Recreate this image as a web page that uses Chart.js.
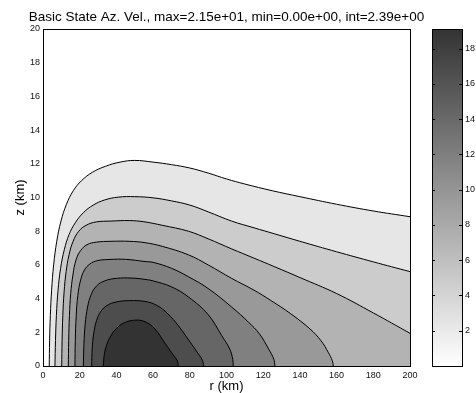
<!DOCTYPE html>
<html>
<head>
<meta charset="utf-8">
<script src="https://cdn.jsdelivr.net/npm/chart.js@4.4.0/dist/chart.umd.min.js"></script>
<style>
  html, body { margin: 0; padding: 0; background: #ffffff; }
  #wrap { position: relative; width: 476px; height: 393px; }
  canvas { position: absolute; left: 0; top: 0; }
</style>
</head>
<body>
<div id="wrap">
  <canvas id="main" width="476" height="393"></canvas>
  <canvas id="cbar" width="476" height="393"></canvas>
</div>
<script>
// ---- data ----
const titleText = 'Basic State Az. Vel., max=2.15e+01, min=0.00e+00, int=2.39e+00';
const levels = [2.39, 4.78, 7.17, 9.56, 11.95, 14.34, 16.73, 19.12];
const rTicks = [0, 20, 40, 60, 80, 100, 120, 140, 160, 180, 200];
const zTicks = [0, 2, 4, 6, 8, 10, 12, 14, 16, 18, 20];
const cbarTicks = [2, 4, 6, 8, 10, 12, 14, 16, 18];
const cbarRange = [0, 19.12];

// contour lines, [r (km), z (km)]
const contour1 = [[3.4,0],[3.6,1.5],[4.0,3.0],[4.7,4.5],[5.8,6.0],[7.5,7.4],[9.8,8.6],[12.8,9.6],[16.5,10.4],[21,11.0],[27,11.5],[34,11.85],[42,12.1],[50,12.2],[60,12.1],[70,11.95],[80,11.75],[90,11.45],[100,11.1],[110,10.8],[125,10.4],[140,10.05],[160,9.6],[180,9.2],[200,8.86]];
const contour2 = [[6.5,0],[6.8,1.5],[7.3,3.0],[8.2,4.5],[9.6,5.8],[11.6,6.9],[14.2,7.8],[17.6,8.5],[22,9.1],[27.4,9.55],[33.5,9.85],[41,10.02],[50,10.05],[60,9.98],[70,9.8],[80,9.55],[90,9.15],[102.8,8.6],[115,8.2],[126,7.85],[140,7.4],[160,6.78],[180,6.18],[200,5.6]];
const contour3 = [[10.2,0],[10.4,1.5],[10.8,3.0],[11.5,4.4],[12.6,5.6],[14.2,6.6],[16.4,7.4],[19.5,8.0],[23.5,8.35],[29,8.55],[37,8.6],[47,8.63],[55,8.56],[65,8.35],[79.2,8.0],[90,7.55],[102.8,6.95],[115,6.4],[126,5.9],[140,5.25],[160,4.3],[180,3.15],[200,1.94]];
const contour4 = [[13.8,0],[14.0,1.5],[14.4,3.0],[15.1,4.3],[16.3,5.4],[18.0,6.3],[20.5,6.85],[24,7.2],[29,7.35],[37,7.4],[47,7.4],[55.6,7.32],[65,7.1],[79.2,6.6],[90,6.0],[102.8,5.2],[115,4.5],[124,3.9],[135,3.1],[145.5,2.2],[151.5,1.5],[155.5,0.8],[157.7,0.3],[158.2,0]];
const contour5 = [[17.4,0],[17.6,1.5],[18.1,3.0],[19.0,4.2],[20.5,5.1],[22.6,5.7],[25.5,6.05],[29.5,6.25],[36,6.32],[45,6.33],[55.6,6.2],[60,6.15],[70,5.8],[79.2,5.3],[90,4.6],[102.8,3.5],[112,2.6],[118,1.9],[123,1.0],[125.8,0.4],[126.4,0]];
const contour6 = [[22,0],[22.3,1.3],[23.0,2.5],[24.3,3.5],[26.3,4.25],[29.2,4.75],[33.5,5.05],[40,5.2],[48,5.22],[55.6,5.14],[60,5.05],[70,4.7],[79.2,4.1],[90,3.05],[97.4,1.8],[101.8,1.0],[103.4,0.4],[103.7,0]];
const contour7 = [[26.5,0],[26.8,1.0],[27.6,1.9],[29.2,2.7],[31.6,3.25],[35,3.6],[40,3.8],[47,3.88],[55.6,3.83],[62,3.6],[68,3.1],[73.7,2.4],[79,1.6],[83.5,0.9],[86.8,0.35],[87.5,0]];
const contour8 = [[32.9,0],[33.3,0.6],[34.4,1.15],[36.5,1.7],[39.8,2.2],[44,2.55],[50,2.72],[55.6,2.63],[61,2.2],[66.5,1.35],[70,0.8],[73.2,0.3],[73.7,0]];

const contours = [contour1, contour2, contour3, contour4, contour5, contour6, contour7, contour8];

// ---- styling ----
const FONT = '"Liberation Sans", Arial, Helvetica, sans-serif';
function grayFor(v) {
  const t = (v - cbarRange[0]) / (cbarRange[1] - cbarRange[0]);
  const g = Math.round(255 - t * (255 - 51));
  return `rgb(${g},${g},${g})`;
}

// innermost first so it is drawn on top
const datasets = contours.map((c, i) => ({
  label: 'level ' + levels[i],
  data: c.map(p => ({ x: p[0], y: p[1] })),
  fill: 'origin',
  backgroundColor: grayFor(levels[i]),
  borderColor: '#000000',
  borderWidth: 1,
  pointRadius: 0,
  tension: 0.4
})).reverse();

const framePlugin = {
  id: 'frame',
  afterDatasetsDraw(chart) {
    const { ctx, chartArea: a } = chart;
    ctx.save();
    ctx.strokeStyle = '#000';
    ctx.lineWidth = 1;
    ctx.strokeRect(Math.round(a.left) + 0.5, Math.round(a.top) + 0.5,
                   Math.round(a.right - a.left), Math.round(a.bottom - a.top));
    ctx.restore();
  },
  afterDraw(chart) {
    const { ctx, chartArea: a } = chart;
    ctx.save();
    ctx.fillStyle = '#000';
    ctx.textAlign = 'center';
    ctx.textBaseline = 'alphabetic';
    ctx.font = '13.5px ' + FONT;
    ctx.fillText(titleText, (a.left + a.right) / 2, 21);
    ctx.font = '13px ' + FONT;
    ctx.textBaseline = 'middle';
    ctx.fillText('r (km)', (a.left + a.right) / 2, 386);
    ctx.translate(20, (a.top + a.bottom) / 2);
    ctx.rotate(-Math.PI / 2);
    ctx.fillText('z (km)', 0, 0);
    ctx.restore();
  }
};

new Chart(document.getElementById('main'), {
  type: 'line',
  data: { datasets },
  options: {
    responsive: false,
    animation: false,
    devicePixelRatio: 1,
    layout: { padding: { left: 0, top: 29, right: 66, bottom: 0 } },
    plugins: { legend: { display: false }, tooltip: { enabled: false } },
    scales: {
      x: {
        type: 'linear', min: 0, max: 200,
        afterBuildTicks: s => { s.ticks = rTicks.map(v => ({ value: v })); },
        afterFit: s => { s.height = 27; },
        grid: { display: false, drawTicks: false },
        border: { display: false },
        ticks: { autoSkip: false, maxRotation: 0, padding: 4, color: '#111', font: { family: FONT, size: 9 } }
      },
      y: {
        type: 'linear', min: 0, max: 20,
        afterBuildTicks: s => { s.ticks = zTicks.map(v => ({ value: v })); },
        afterFit: s => { s.width = 43; },
        grid: { display: false, drawTicks: false },
        border: { display: false },
        ticks: { autoSkip: false, padding: 3, color: '#111', font: { family: FONT, size: 9 } }
      }
    }
  },
  plugins: [framePlugin]
});

// ---- colour bar ----
const cbarFrame = {
  id: 'cbarFrame',
  afterDatasetsDraw(chart) {
    const { ctx, chartArea: a, scales } = chart;
    ctx.save();
    ctx.strokeStyle = '#000';
    ctx.lineWidth = 1;
    ctx.strokeRect(Math.round(a.left) + 0.5, Math.round(a.top) + 0.5,
                   Math.round(a.right - a.left) - 1, Math.round(a.bottom - a.top));
    ctx.beginPath();
    cbarTicks.forEach(v => {
      const y = Math.round(scales.y.getPixelForValue(v)) + 0.5;
      ctx.moveTo(a.left, y); ctx.lineTo(a.left + 3, y);
      ctx.moveTo(a.right - 4, y); ctx.lineTo(a.right - 1, y);
    });
    ctx.stroke();
    ctx.restore();
  }
};

new Chart(document.getElementById('cbar'), {
  type: 'bar',
  data: {
    labels: ['cbar'],
    datasets: [{
      data: [cbarRange.slice()],
      borderWidth: 0,
      barPercentage: 1,
      categoryPercentage: 1,
      backgroundColor: (c) => {
        const ch = c.chart;
        if (!ch.chartArea) return '#999';
        const y0 = ch.scales.y.getPixelForValue(cbarRange[0]);
        const y1 = ch.scales.y.getPixelForValue(cbarRange[1]);
        const g = ch.ctx.createLinearGradient(0, y0, 0, y1);
        g.addColorStop(0, grayFor(cbarRange[0]));
        g.addColorStop(1, grayFor(cbarRange[1]));
        return g;
      }
    }]
  },
  options: {
    responsive: false,
    animation: false,
    devicePixelRatio: 1,
    layout: { padding: { left: 432, top: 29, right: 0, bottom: 27 } },
    plugins: { legend: { display: false }, tooltip: { enabled: false } },
    scales: {
      x: { display: false },
      y: {
        position: 'right',
        min: cbarRange[0], max: cbarRange[1],
        afterBuildTicks: s => { s.ticks = cbarTicks.map(v => ({ value: v })); },
        afterFit: s => { s.width = 13; },
        grid: { display: false, drawTicks: false },
        border: { display: false },
        ticks: { autoSkip: false, padding: 2, color: '#111', font: { family: FONT, size: 9 } }
      }
    }
  },
  plugins: [cbarFrame]
});
</script>
</body>
</html>
